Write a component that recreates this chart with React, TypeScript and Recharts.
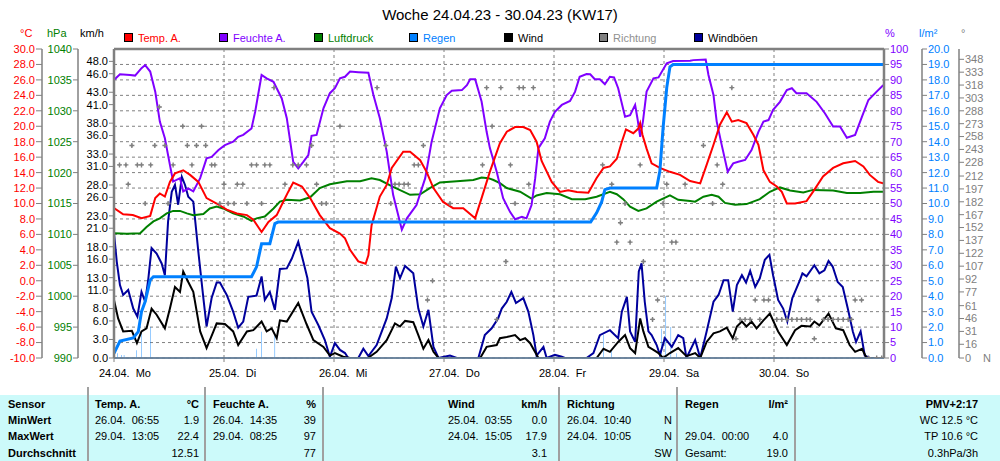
import React from 'react';
import { ComposedChart, Line, Bar, Scatter, XAxis, YAxis, CartesianGrid, ReferenceLine } from 'recharts';

const FONT = '"Liberation Sans", Arial, Helvetica, sans-serif';

const C = {
  temp: '#FF0000',
  hum: '#8000FF',
  press: '#008000',
  rain: '#0080FF',
  wind: '#000000',
  dir: '#808080',
  gust: '#00009C',
  axis: '#808080',
  grid: '#808080',
};

// axis ids: Recharts stacks same-side axes in id order, first = next to the plot
const AX = {
  wind: 'L1_wind',
  press: 'L2_press',
  temp: 'L3_temp',
  hum: 'R1_hum',
  rain: 'R2_rain',
  dir: 'R3_dir',
};

const title = 'Woche 24.04.23 - 30.04.23 (KW17)';

const dayTicks = [0, 24, 48, 72, 96, 120, 144];
const dayLabels = ['24.04.  Mo', '25.04.  Di', '26.04.  Mi', '27.04.  Do', '28.04.  Fr', '29.04.  Sa', '30.04.  So'];

const tempTicks = [-10, -8, -6, -4, -2, 0, 2, 4, 6, 8, 10, 12, 14, 16, 18, 20, 22, 24, 26, 28, 30];
const pressTicks = [990, 995, 1000, 1005, 1010, 1015, 1020, 1025, 1030, 1035, 1040];
const windTicks = [0, 3, 6, 8, 11, 13, 16, 18, 21, 23, 26, 28, 31, 33, 36, 38, 41, 43, 46, 48];
const humTicks = [0, 5, 10, 15, 20, 25, 30, 35, 40, 45, 50, 55, 60, 65, 70, 75, 80, 85, 90, 95, 100];
const rainTicks = [0, 1, 2, 3, 4, 5, 6, 7, 8, 9, 10, 11, 12, 13, 14, 15, 16, 17, 18, 19, 20];
const dirTicks = [0, 16, 31, 46, 61, 77, 92, 107, 122, 137, 152, 167, 182, 197, 212, 228, 243, 258, 273, 288, 303, 318, 333, 348];

const legendNames = ['Temp. A.', 'Feuchte A.', 'Luftdruck', 'Regen', 'Wind', 'Richtung', 'Windböen'];

// [hour since 24.04. 00:00, value]
const tempSeries: [number, number][] = [
  [0, 9.4], [2.0, 8.6], [4.1, 8.5], [6.0, 8.1], [7.9, 8.4], [9.0, 10.7], [10.0, 11.3], [11.1, 10.9], [12.2, 12.8],
  [13.3, 13.9], [15.1, 14.3], [16.6, 13.7], [18.4, 12.8], [20.2, 10.7], [22.4, 10.0], [24.6, 9.2], [26.8, 8.7],
  [29.0, 8.5], [30.4, 7.9], [32.2, 6.3], [33.7, 7.6], [35.5, 8.5], [36.9, 10.2], [38.0, 11.5], [39.1, 12.7],
  [41.0, 12.2], [42.8, 10.7], [44.9, 8.5], [47.1, 6.8], [49.3, 6.1], [50.4, 5.5], [51.5, 4.0], [53.3, 2.5],
  [54.4, 2.3], [54.9, 2.2], [55.5, 3.3], [56.2, 7.2], [58.0, 10.9], [59.5, 12.4], [60.6, 14.6], [63.1, 16.7],
  [64.6, 16.7], [66.8, 15.6], [68.2, 14.1], [69.7, 12.0], [71.8, 10.2], [74.0, 9.4], [76.2, 9.4], [78.8, 8.1],
  [80.2, 10.7], [82.0, 14.1], [84.2, 17.8], [85.7, 19.3], [87.5, 19.9], [89.3, 19.9], [90.8, 19.5], [92.2, 18.0],
  [93.3, 15.5], [95.5, 12.8], [97.3, 11.5], [99.1, 11.7], [101.0, 11.5], [103.5, 11.4], [105.3, 13.3], [106.8, 14.6],
  [108.2, 14.8], [109.7, 15.8], [110.8, 18.0], [111.7, 19.6], [113.3, 19.1], [114.4, 19.7], [114.8, 20.4],
  [115.3, 18.9], [116.2, 17.1], [117.3, 15.2], [119.1, 14.6], [121.3, 14.1], [123.5, 13.7], [125.7, 12.9],
  [127.9, 12.6], [129.3, 15.0], [130.8, 17.6], [132.2, 20.2], [133.7, 21.8], [134.8, 20.6], [136.2, 20.8],
  [138.0, 20.4], [139.5, 18.9], [140.6, 17.6], [141.7, 14.3], [143.1, 12.8], [144.6, 12.2], [145.7, 11.5],
  [146.8, 10.0], [148.6, 10.0], [151.1, 10.3], [152.5, 11.5], [154.7, 13.5], [156.9, 14.6], [159.1, 15.2],
  [161.7, 15.5], [163.5, 14.8], [164.9, 13.7], [166.7, 12.8], [168, 12.6],
];

const humSeries: [number, number][] = [
  [0, 90.0], [1.3, 91.8], [3.5, 91.6], [4.6, 91.4], [6.0, 93.8], [6.8, 94.8], [7.9, 92.7], [9.0, 86.2], [10.0, 76.5],
  [11.1, 71.1], [12.2, 62.5], [12.9, 57.1], [14.4, 58.2], [15.1, 53.9], [16.2, 54.9], [17.3, 53.9], [18.8, 58.2],
  [20.2, 64.6], [21.3, 65.1], [22.8, 67.3], [24.2, 68.9], [26.0, 70.0], [27.1, 71.6], [28.2, 72.2], [30.0, 74.3],
  [30.8, 79.7], [32.2, 91.6], [33.3, 90.5], [34.8, 89.4], [36.6, 84.0], [37.7, 77.6], [39.1, 63.5], [40.2, 61.4],
  [41.3, 63.5], [42.4, 65.7], [43.1, 71.9], [44.2, 72.2], [45.7, 80.8], [47.1, 85.7], [48.2, 87.3], [49.3, 90.5],
  [50.4, 91.0], [51.5, 92.7], [53.3, 92.5], [55.5, 92.3], [56.6, 85.1], [58.0, 77.6], [59.5, 66.8], [60.9, 52.8],
  [62.8, 41.5], [63.9, 45.2], [66.0, 49.5], [67.9, 58.2], [69.3, 70.0], [71.1, 80.8], [72.6, 85.1], [73.7, 86.5],
  [75.9, 86.7], [77.0, 88.3], [77.7, 90.2], [78.8, 90.2], [80.2, 83.0], [81.3, 73.2], [82.0, 68.0], [83.5, 60.3],
  [84.9, 51.7], [86.4, 47.3], [87.5, 44.9], [89.0, 45.7], [90.0, 45.2], [91.1, 49.5], [91.9, 58.2], [92.6, 67.9],
  [94.0, 71.1], [95.1, 76.5], [96.2, 79.7], [97.7, 81.9], [99.5, 83.2], [100.6, 86.2], [101.6, 91.0], [103.1, 91.9],
  [103.9, 91.8], [104.9, 90.2], [106.0, 90.2], [107.1, 88.6], [108.2, 91.0], [109.1, 90.8], [110.0, 87.3],
  [111.5, 78.1], [112.6, 78.6], [113.7, 81.9], [114.2, 77.6], [114.8, 71.6], [115.4, 76.5], [116.2, 86.2],
  [117.7, 90.5], [118.8, 90.8], [120.6, 95.4], [122.0, 96.1], [125.7, 96.2], [126.4, 96.4], [129.1, 96.6],
  [129.7, 91.6], [130.8, 85.1], [131.5, 76.5], [132.6, 68.9], [133.9, 60.3], [135.1, 63.0], [136.2, 63.5],
  [137.7, 64.1], [139.1, 67.3], [140.6, 73.2], [141.7, 76.5], [142.8, 77.0], [143.8, 80.3], [145.3, 82.9],
  [146.8, 86.7], [147.9, 87.3], [148.9, 85.7], [151.1, 85.7], [153.3, 82.9], [155.1, 79.2], [156.9, 74.9],
  [158.4, 74.9], [159.9, 71.3], [161.7, 72.2], [163.2, 78.1], [164.6, 83.5], [166.4, 86.2], [167.7, 88.1], [168, 88.4],
];

const pressSeries: [number, number][] = [
  [0, 1010.2], [2.8, 1010.1], [5.7, 1010.2], [7.1, 1011.2], [8.6, 1012.1], [10.0, 1012.6], [11.5, 1013.4],
  [12.9, 1013.8], [14.4, 1013.8], [15.9, 1013.4], [17.3, 1013.1], [19.5, 1013.3], [20.9, 1014.2], [22.4, 1014.5],
  [23.8, 1014.2], [26.0, 1013.4], [28.2, 1012.9], [30.0, 1012.2], [31.1, 1012.6], [32.9, 1012.9], [34.8, 1014.2],
  [36.2, 1015.3], [37.7, 1015.6], [40.6, 1015.5], [42.8, 1016.0], [44.9, 1017.5], [47.1, 1018.1], [50.8, 1018.6],
  [53.7, 1018.6], [56.2, 1019.1], [58.0, 1018.8], [60.9, 1017.7], [64.6, 1016.4], [66.8, 1016.5], [68.9, 1017.5],
  [71.1, 1018.4], [74.8, 1018.6], [78.4, 1018.8], [80.2, 1019.2], [81.7, 1019.1], [82.8, 1018.8], [84.2, 1018.3],
  [85.7, 1017.5], [88.6, 1016.9], [91.1, 1015.8], [92.2, 1016.3], [94.4, 1016.7], [97.3, 1016.5], [99.9, 1015.7],
  [102.8, 1015.7], [105.3, 1016.1], [108.2, 1016.9], [109.7, 1016.5], [111.1, 1015.7], [112.6, 1014.5],
  [114.4, 1013.8], [116.2, 1014.2], [118.4, 1015.3], [121.3, 1016.3], [123.1, 1015.6], [125.7, 1015.4],
  [126.8, 1015.3], [128.6, 1016.1], [130.4, 1016.4], [131.9, 1016.1], [133.3, 1015.1], [135.5, 1014.8],
  [138.0, 1014.9], [140.9, 1015.7], [143.1, 1016.9], [145.3, 1017.6], [147.5, 1017.1], [150.4, 1016.8],
  [152.5, 1017.2], [156.9, 1017.1], [159.9, 1016.7], [162.8, 1016.7], [165.7, 1016.9], [168, 1016.9],
];

const rainSumSeries: [number, number][] = [
  [0, 0.3], [1.3, 1.1], [4.2, 1.3], [5.3, 1.7], [6.0, 3.0], [6.8, 3.65], [7.9, 5.05], [8.6, 5.26], [30.0, 5.26],
  [31.1, 5.9], [32.2, 7.4], [34.0, 7.4], [35.1, 8.7], [35.8, 8.8], [104.0, 8.8], [105.3, 9.4], [106.4, 10.1],
  [107.1, 10.9], [108.2, 11.0], [118.4, 11.0], [119.1, 12.1], [119.8, 14.9], [120.6, 17.5], [121.3, 18.85],
  [122.0, 19.0], [168, 19.0],
];

const rainBarSeries: [number, number][] = [
  [0.8, 0.3], [1.6, 0.2], [2.2, 0.2], [4.9, 0.5], [6.0, 1.7], [8.0, 2.0], [31.1, 0.6], [32.2, 1.7], [35.1, 1.5],
  [106.8, 1.5], [108.6, 0.6], [119.5, 1.9], [120.4, 4.0], [121.5, 2.0], [122.8, 0.3],
];

const windSeries: [number, number][] = [
  [0, 9.4], [0.9, 6.4], [2.0, 4.3], [3.9, 4.4], [5.0, 2.4], [6.0, 4.3], [7.1, 4.8], [8.2, 8.0], [9.3, 7.0],
  [11.1, 4.8], [12.2, 8.0], [13.3, 11.5], [14.4, 10.7], [15.1, 14.0], [16.2, 12.3], [17.3, 10.7], [18.8, 4.3],
  [20.2, 1.6], [21.7, 4.3], [22.4, 5.6], [24.2, 5.5], [26.0, 4.3], [27.1, 2.1], [29.0, 4.3], [30.4, 4.5],
  [32.2, 5.9], [33.3, 4.3], [34.4, 4.8], [35.5, 3.2], [36.2, 6.1], [37.7, 5.9], [40.2, 8.9], [42.0, 5.5],
  [43.5, 2.9], [45.7, 1.8], [47.1, 0.4], [48.2, 0.8], [50.0, 0.2], [51.5, 0], [55.4, 0], [57.3, 1.0], [59.5, 2.9],
  [61.3, 5.6], [62.4, 5.1], [63.5, 6.0], [65.3, 5.8], [66.4, 3.7], [67.5, 1.5], [68.6, 2.9], [69.7, 1.0],
  [70.8, 0], [79.9, 0], [81.3, 1.8], [83.5, 2.1], [84.2, 3.2], [85.7, 3.4], [87.5, 3.7], [88.6, 2.9], [89.7, 3.2],
  [90.8, 2.4], [92.6, 0], [105.3, 0], [106.8, 1.5], [108.2, 1.0], [110.0, 2.6], [111.5, 3.7], [112.6, 1.6],
  [113.7, 0.8], [114.8, 6.4], [115.5, 4.3], [116.6, 1.8], [117.7, 1.3], [118.8, 0.8], [119.8, 0], [121.3, 0.8],
  [123.1, 1.6], [124.9, 0.3], [126.8, 0.8], [127.9, 0], [129.3, 2.6], [130.8, 4.0], [132.2, 4.3], [133.7, 4.9],
  [135.0, 3.2], [135.9, 5.1], [137.0, 5.9], [138.0, 5.1], [139.1, 5.9], [140.2, 4.8], [141.7, 6.1], [143.1, 7.2],
  [144.9, 4.3], [146.8, 2.1], [148.6, 4.5], [150.0, 5.2], [151.9, 5.1], [152.8, 5.9], [153.9, 5.3], [155.9, 7.2],
  [157.5, 4.8], [159.1, 4.5], [160.5, 2.1], [161.7, 1.0], [163.2, 1.5], [164.2, 0], [168, 0],
];

const gustSeries: [number, number][] = [
  [0, 20.2], [0.6, 15.6], [1.3, 11.8], [2.0, 10.2], [3.1, 11.0], [4.2, 8.0], [5.1, 6.7], [6.0, 10.7], [6.8, 9.1],
  [7.5, 12.9], [8.2, 17.8], [9.3, 16.9], [10.4, 15.3], [11.1, 13.4], [11.8, 22.1], [12.6, 26.9], [13.3, 28.0],
  [14.0, 24.8], [14.8, 29.3], [15.5, 28.0], [16.2, 26.1], [17.3, 25.3], [18.4, 17.2], [19.5, 9.7], [20.2, 5.1],
  [21.3, 9.7], [22.4, 12.2], [23.1, 12.2], [24.6, 10.2], [26.0, 7.5], [27.1, 4.9], [28.2, 5.9], [29.3, 9.9],
  [31.1, 10.1], [32.2, 13.2], [32.9, 9.4], [34.0, 10.7], [35.1, 7.8], [36.2, 14.4], [37.7, 14.5], [38.8, 16.1],
  [40.2, 18.8], [41.3, 15.6], [42.2, 12.9], [43.1, 7.5], [44.6, 5.3], [46.0, 2.9], [47.1, 0.2], [48.2, 2.4],
  [49.3, 1.3], [50.4, 0.8], [51.1, 0], [53.3, 0], [54.4, 1.5], [55.5, 0.3], [57.3, 2.1], [59.5, 6.4], [60.6, 9.7],
  [61.5, 14.8], [62.4, 12.9], [63.5, 14.9], [65.3, 13.7], [66.4, 8.0], [67.5, 5.1], [68.6, 7.8], [69.7, 1.8],
  [70.8, 0], [73.3, 0.4], [74.8, 0], [79.5, 0], [80.9, 3.7], [82.4, 4.8], [83.8, 6.4], [84.6, 8.0], [85.7, 9.1],
  [86.7, 10.7], [87.7, 8.9], [89.3, 9.7], [90.4, 7.5], [91.5, 3.7], [92.2, 0.4], [93.7, 1.8], [94.4, 0],
  [96.2, 0.5], [97.7, 0.2], [98.4, 0], [103.1, 0], [104.6, 0.8], [106.0, 3.7], [108.2, 4.5], [110.0, 3.2],
  [110.8, 7.5], [111.9, 9.9], [112.6, 4.3], [113.7, 2.6], [114.5, 14.0], [115.1, 15.3], [115.8, 9.1], [116.6, 4.3],
  [117.3, 3.7], [118.4, 2.1], [119.1, 0.5], [120.2, 3.2], [121.7, 1.8], [123.1, 3.7], [124.2, 3.2], [124.9, 0],
  [126.8, 2.9], [127.9, 0], [129.3, 4.3], [130.8, 9.1], [131.9, 10.2], [133.0, 12.6], [134.0, 12.6], [135.0, 7.5],
  [135.9, 11.8], [137.0, 13.4], [137.9, 12.2], [138.8, 14.1], [139.9, 11.5], [140.9, 12.9], [142.0, 15.9],
  [143.0, 16.7], [143.8, 13.4], [144.9, 9.4], [146.0, 8.0], [146.9, 5.9], [148.0, 9.7], [149.5, 12.3],
  [150.2, 13.7], [151.1, 13.2], [152.8, 15.0], [153.9, 13.7], [155.0, 14.2], [155.9, 15.7], [156.8, 14.8],
  [157.9, 12.3], [159.0, 11.5], [160.1, 8.0], [161.2, 4.3], [161.9, 2.6], [162.9, 4.3], [163.8, 0.4], [164.9, 0],
  [168, 0],
];

const dirSeries: [number, number][] = [
  [1.2, 225], [2.6, 225], [3.1, 202.5], [3.9, 247.5], [5.1, 225], [6.0, 225], [6.8, 180], [8.0, 225], [8.9, 247.5],
  [9.9, 292.5], [11.1, 247.5], [11.8, 180], [12.9, 225], [15.0, 270], [16.0, 247.5], [17.0, 225], [18.0, 247.5],
  [19.1, 270], [20.0, 247.5], [21.3, 225], [22.0, 225], [23.1, 180], [24.0, 202.5], [24.9, 180], [26.2, 180],
  [26.9, 202.5], [28.1, 202.5], [29.0, 180], [30.0, 225], [31.1, 225], [32.2, 180], [32.9, 225], [34.0, 225],
  [34.9, 315], [37.3, 202.5], [39.0, 225], [40.2, 225], [42.0, 225], [43.1, 247.5], [44.2, 202.5], [45.3, 180],
  [46.3, 180], [49.3, 270], [57.4, 315], [59.3, 247.5], [60.4, 180], [61.3, 202.5], [62.2, 202.5], [63.3, 202.5],
  [64.2, 202.5], [65.5, 225], [66.4, 225], [67.5, 247.5], [68.4, 67.5], [69.5, 90], [73.3, 180], [80.4, 225],
  [81.3, 315], [82.5, 270], [83.5, 45], [84.4, 315], [85.5, 112.5], [86.5, 225], [87.5, 180], [88.4, 315],
  [89.3, 315], [90.5, 202.5], [91.5, 315], [106.6, 225], [108.6, 202.5], [109.7, 135], [110.5, 157.5],
  [111.5, 180], [112.6, 135], [114.8, 225], [115.5, 112.5], [117.5, 45], [118.6, 67.5], [119.8, 180],
  [120.6, 202.5], [121.7, 135], [122.6, 135], [124.6, 202.5], [128.6, 247.5], [130.6, 180], [131.6, 225],
  [132.8, 202.5], [134.8, 315], [135.7, 22.5], [136.6, 45], [137.7, 45], [138.8, 45], [139.9, 67.5], [140.9, 45],
  [141.8, 67.5], [142.8, 67.5], [144.6, 45], [145.7, 45], [146.8, 45], [147.9, 45], [149.0, 45], [150.0, 45],
  [151.1, 45], [151.9, 45], [152.8, 22.5], [153.6, 67.5], [154.8, 45], [155.8, 45], [156.9, 45], [158.0, 45],
  [159.1, 45], [160.2, 45], [160.9, 45], [161.7, 67.5], [163.1, 67.5], [164.6, 0], [166.4, 0], [167.5, 0],
];

// table
const tableRowHeads = ['Sensor', 'MinWert', 'MaxWert', 'Durchschnitt'];
const tempCol = { head: 'Temp. A.', unit: '°C', dates: ['26.04.  06:55', '29.04.  13:05', ''], vals: ['1.9', '22.4', '12.51'] };
const humCol = { head: 'Feuchte A.', unit: '%', dates: ['26.04.  14:35', '29.04.  08:25', ''], vals: ['39', '97', '77'] };
const windCol = { head: 'Wind', unit: 'km/h', dates: ['25.04.  03:55', '24.04.  15:05', ''], vals: ['0.0', '17.9', '3.1'] };
const dirCol = { head: 'Richtung', unit: '', dates: ['26.04.  10:40', '24.04.  10:05', ''], vals: ['N', 'N', 'SW'] };
const rainCol = { head: 'Regen', unit: 'l/m²', dates: ['', '29.04.  00:00', 'Gesamt:'], vals: ['', '4.0', '19.0'] };
const extraTexts = ['PMV+2:17', 'WC 12.5 °C', 'TP 10.6 °C', '0.3hPa/3h'];

const toPts = (arr: [number, number][]) => arr.map(([t, v]) => ({ t, v }));
const tempData = toPts(tempSeries);
const humData = toPts(humSeries);
const pressData = toPts(pressSeries);
const rainSumData = toPts(rainSumSeries);
const windData = toPts(windSeries);
const gustData = toPts(gustSeries);
const dirData = toPts(dirSeries);
const rainBarData = rainBarSeries.map(([t, r]) => ({ t, r }));

const tickFont = { fontSize: 11, fontFamily: FONT };

const DayTick = (props: any) => {
  const { x, y, payload } = props;
  const i = dayTicks.indexOf(payload.value);
  return (
    <text x={x - 15} y={y + 13} fill="#000" fontSize={11} fontFamily={FONT} style={{ whiteSpace: 'pre' }}>
      {dayLabels[i]}
    </text>
  );
};

const DirTick = (props: any) => {
  const { x, y, payload } = props;
  return (
    <g>
      <text x={x} y={y} dy="0.355em" fill={C.dir} fontSize={11} fontFamily={FONT} textAnchor="start">
        {payload.value}
      </text>
      {payload.value === 0 && (
        <text x={x + 18} y={y} dy="0.355em" fill={C.dir} fontSize={11} fontFamily={FONT} textAnchor="start">
          N
        </text>
      )}
    </g>
  );
};

const DirMark = (props: any) => {
  const { cx, cy } = props;
  if (cx == null || cy == null) return null;
  return (
    <g>
      <path d={`M${cx - 2.5},${cy}H${cx + 2.5}M${cx},${cy - 2.5}V${cy + 2.5}`} stroke={C.dir} strokeWidth={1.4} />
      <rect x={cx - 1} y={cy - 1} width={2} height={2} fill={C.dir} />
    </g>
  );
};

const abs = (extra: React.CSSProperties): React.CSSProperties => ({
  position: 'absolute',
  fontFamily: FONT,
  fontSize: 11,
  lineHeight: '13px',
  whiteSpace: 'pre',
  ...extra,
});

const rowTops = [398, 414, 430, 447];
const separators = [88, 205, 323, 559, 677, 795];

function ColBlock({ col, left, right }: { col: any; left: number; right: number }) {
  return (
    <>
      <div style={abs({ left, top: rowTops[0], fontWeight: 'bold' })}>{col.head}</div>
      <div style={abs({ right: 1000 - right, top: rowTops[0], fontWeight: 'bold' })}>{col.unit}</div>
      {col.dates.map((d: string, i: number) => (
        <div key={'d' + i} style={abs({ left, top: rowTops[i + 1] })}>{d}</div>
      ))}
      {col.vals.map((v: string, i: number) => (
        <div key={'v' + i} style={abs({ right: 1000 - right, top: rowTops[i + 1] })}>{v}</div>
      ))}
    </>
  );
}

const legendColors = [C.temp, C.hum, C.press, C.rain, C.wind, C.dir, C.gust];
const legendLefts = [124, 219, 314, 409, 504, 599, 694];

export default function App() {
  return (
    <div style={{ position: 'absolute', left: 0, top: 0, width: 1000, height: 461, background: '#fff', overflow: 'hidden' }}>
      <div style={{ position: 'absolute', left: 0, top: 395, width: 1000, height: 66, background: '#CCFAFA' }} />
      {separators.map((x) => (
        <div key={x} style={{ position: 'absolute', left: x - 1, top: 387, width: 2, height: 74, background: '#A0A0A0' }} />
      ))}
      <div style={{ position: 'absolute', left: 0, top: 0 }}>
        <ComposedChart width={1000} height={390} data={rainBarData} margin={{ top: 49, right: 0, bottom: 0, left: 0 }}>
          <CartesianGrid yAxisId={AX.hum} stroke={C.grid} strokeDasharray="3 3" strokeWidth={1} />
          <XAxis
            dataKey="t"
            type="number"
            domain={[0, 168]}
            ticks={dayTicks}
            interval={0}
            height={32}
            tick={<DayTick />}
            tickSize={4}
            tickLine={{ stroke: C.axis }}
            axisLine={{ stroke: C.axis, strokeWidth: 1.5 }}
            allowDataOverflow
          />
          <YAxis
            yAxisId={AX.wind}
            orientation="left"
            width={36}
            type="number"
            domain={[0, 50]}
            ticks={windTicks}
            interval={0}
            tickFormatter={(v: number) => v.toFixed(1)}
            tick={{ ...tickFont, fill: '#000' }}
            tickSize={5}
            tickMargin={1}
            tickLine={{ stroke: C.axis }}
            axisLine={{ stroke: C.axis, strokeWidth: 2.5 }}
            allowDataOverflow
          />
          <YAxis
            yAxisId={AX.press}
            orientation="left"
            width={36}
            type="number"
            domain={[990, 1040]}
            ticks={pressTicks}
            interval={0}
            tick={{ ...tickFont, fill: C.press }}
            tickSize={5}
            tickMargin={1}
            tickLine={{ stroke: C.axis }}
            axisLine={{ stroke: C.axis, strokeWidth: 1.5 }}
            allowDataOverflow
          />
          <YAxis
            yAxisId={AX.temp}
            orientation="left"
            width={42}
            type="number"
            domain={[-10, 30]}
            ticks={tempTicks}
            interval={0}
            tickFormatter={(v: number) => v.toFixed(1)}
            tick={{ ...tickFont, fill: C.temp }}
            tickSize={6}
            tickMargin={1}
            tickLine={{ stroke: C.axis }}
            axisLine={{ stroke: C.axis, strokeWidth: 1.5 }}
            allowDataOverflow
          />
          <YAxis
            yAxisId={AX.hum}
            orientation="right"
            width={38}
            type="number"
            domain={[0, 100]}
            ticks={humTicks}
            interval={0}
            tick={{ ...tickFont, fill: C.hum }}
            tickSize={5}
            tickMargin={1}
            tickLine={{ stroke: C.axis }}
            axisLine={{ stroke: C.axis, strokeWidth: 2.5 }}
            allowDataOverflow
          />
          <YAxis
            yAxisId={AX.rain}
            orientation="right"
            width={37}
            type="number"
            domain={[0, 20]}
            ticks={rainTicks}
            interval={0}
            tickFormatter={(v: number) => v.toFixed(1)}
            tick={{ ...tickFont, fill: C.rain }}
            tickSize={5}
            tickMargin={1}
            tickLine={{ stroke: C.axis }}
            axisLine={{ stroke: C.axis, strokeWidth: 1.5 }}
            allowDataOverflow
          />
          <YAxis
            yAxisId={AX.dir}
            orientation="right"
            width={41}
            type="number"
            domain={[0, 360]}
            ticks={dirTicks}
            interval={0}
            tick={<DirTick />}
            tickSize={5}
            tickMargin={1}
            tickLine={{ stroke: C.axis }}
            axisLine={{ stroke: C.axis, strokeWidth: 1.5 }}
            allowDataOverflow
          />
          <ReferenceLine yAxisId={AX.hum} y={100} stroke={C.axis} strokeWidth={2.5} />
          <Bar yAxisId={AX.rain} dataKey="r" fill={C.rain} barSize={4} isAnimationActive={false} />
          <Scatter yAxisId={AX.dir} data={dirData} dataKey="v" shape={<DirMark />} isAnimationActive={false} />
          <Line yAxisId={AX.wind} data={gustData} dataKey="v" type="linear" stroke={C.gust} strokeWidth={2} dot={false} isAnimationActive={false} />
          <Line yAxisId={AX.wind} data={windData} dataKey="v" type="linear" stroke={C.wind} strokeWidth={2} dot={false} isAnimationActive={false} />
          <Line yAxisId={AX.press} data={pressData} dataKey="v" type="linear" stroke={C.press} strokeWidth={2} dot={false} isAnimationActive={false} />
          <Line yAxisId={AX.hum} data={humData} dataKey="v" type="linear" stroke={C.hum} strokeWidth={2} dot={false} isAnimationActive={false} />
          <Line yAxisId={AX.temp} data={tempData} dataKey="v" type="linear" stroke={C.temp} strokeWidth={2} dot={false} isAnimationActive={false} />
          <Line yAxisId={AX.rain} data={rainSumData} dataKey="v" type="linear" stroke={C.rain} strokeWidth={3} dot={false} isAnimationActive={false} />
          <ReferenceLine yAxisId={AX.rain} y={0} stroke={C.rain} strokeWidth={1.5} />
        </ComposedChart>
      </div>

      <div style={abs({ left: 0, top: 6, width: 1000, textAlign: 'center', fontSize: 15, lineHeight: '17px' })}>{title}</div>

      <div style={abs({ left: 20, top: 27, color: C.temp })}>°C</div>
      <div style={abs({ left: 47, top: 27, color: C.press })}>hPa</div>
      <div style={abs({ left: 80, top: 27, color: '#000' })}>km/h</div>
      <div style={abs({ left: 885, top: 27, color: C.hum })}>%</div>
      <div style={abs({ left: 919, top: 27, color: C.rain })}>l/m²</div>
      <div style={abs({ left: 961, top: 27, color: C.dir })}>°</div>

      {legendNames.map((n, i) => (
        <React.Fragment key={n}>
          <div
            style={{
              position: 'absolute',
              left: legendLefts[i],
              top: 33,
              width: 7,
              height: 7,
              background: legendColors[i],
              border: '1px solid #000',
            }}
          />
          <div style={abs({ left: legendLefts[i] + 14, top: 32, color: i === 5 ? '#909090' : i === 4 || i === 6 ? '#000' : legendColors[i] })}>
            {n}
          </div>
        </React.Fragment>
      ))}

      {tableRowHeads.map((h, i) => (
        <div key={h} style={abs({ left: 8, top: rowTops[i], fontWeight: 'bold' })}>{h}</div>
      ))}
      <ColBlock col={tempCol} left={95} right={199} />
      <ColBlock col={humCol} left={213} right={316} />
      <ColBlock col={windCol} left={448} right={547} />
      <ColBlock col={dirCol} left={567} right={672} />
      <ColBlock col={rainCol} left={685} right={788} />
      {extraTexts.map((t, i) => (
        <div key={t} style={abs({ right: 1000 - 978, top: rowTops[i], fontWeight: i === 0 ? 'bold' : 'normal' })}>{t}</div>
      ))}
    </div>
  );
}
